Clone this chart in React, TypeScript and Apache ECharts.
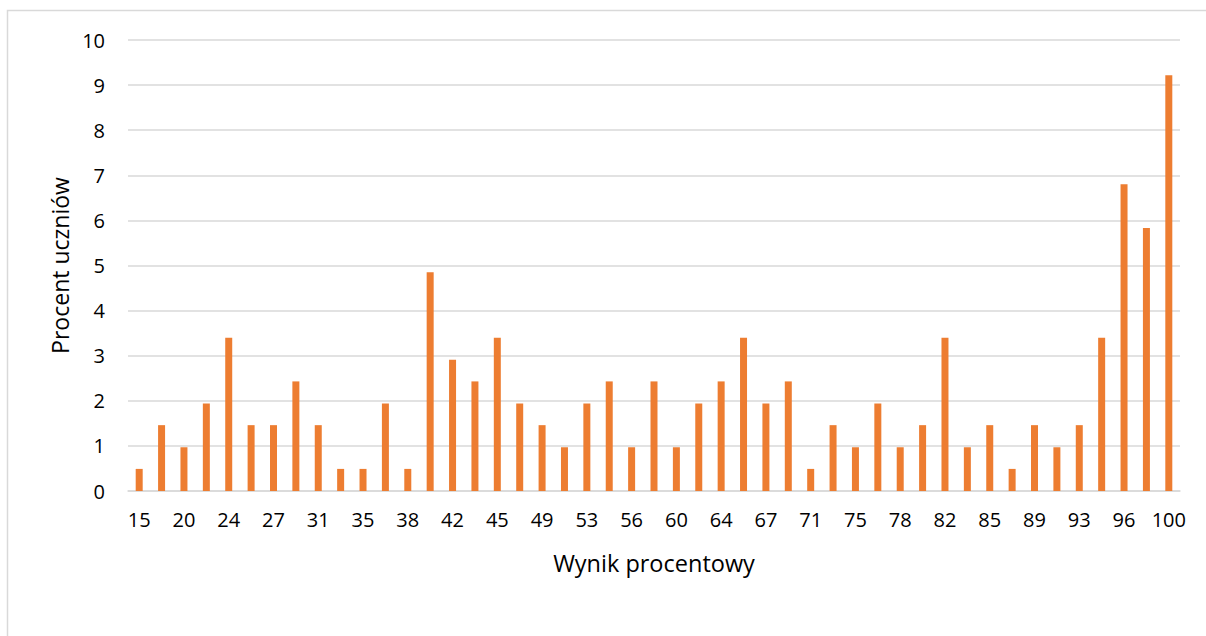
import React, { useEffect, useRef } from "react";
import * as echarts from "echarts";

const categories = [
  "15", "17", "20", "22", "24", "26", "27", "29", "31", "33", "35", "36",
  "38", "40", "42", "44", "45", "47", "49", "51", "53", "55", "56", "58",
  "60", "62", "64", "65", "67", "69", "71", "73", "75", "76", "78", "80",
  "82", "84", "85", "87", "89", "91", "93", "95", "96", "98", "100",
];

const percentOfStudents = [
  0.49, 1.46, 0.97, 1.94, 3.40, 1.46, 1.46, 2.43, 1.46, 0.49, 0.49, 1.94,
  0.49, 4.85, 2.91, 2.43, 3.40, 1.94, 1.46, 0.97, 1.94, 2.43, 0.97, 2.43,
  0.97, 1.94, 2.43, 3.40, 1.94, 2.43, 0.49, 1.46, 0.97, 1.94, 0.97, 1.46,
  3.40, 0.97, 1.46, 0.49, 1.46, 0.97, 1.46, 3.40, 6.80, 5.83, 9.22,
];

const xTitle = "Wynik procentowy";
const yTitle = "Procent uczniów";

export default function App() {
  const ref = useRef<HTMLDivElement>(null);
  useEffect(() => {
    if (!ref.current) return;
    const chart = echarts.init(ref.current, null, { renderer: "svg" });
    const font = "'Open Sans', sans-serif";
    chart.setOption({
      animation: false,
      backgroundColor: "#ffffff",
      graphic: [
        {
          type: "rect",
          shape: { x: 7.5, y: 10.5, width: 1400, height: 800 },
          style: { fill: "none", stroke: "#d9d9d9", lineWidth: 1.5 },
          silent: true,
        },
      ],
      grid: { left: 128, right: 26, top: 40, bottom: 145 },
      xAxis: {
        type: "category",
        data: categories,
        boundaryGap: true,
        name: xTitle,
        nameLocation: "middle",
        nameGap: 60,
        nameTextStyle: { fontFamily: font, fontSize: 23.5, color: "#000" },
        axisLine: { show: true, lineStyle: { color: "#d9d9d9", width: 1.5 } },
        axisTick: { show: false },
        axisLabel: {
          interval: 1,
          margin: 18,
          fontFamily: font,
          fontSize: 20,
          color: "#000",
        },
      },
      yAxis: {
        type: "value",
        min: 0,
        max: 10,
        interval: 1,
        name: yTitle,
        nameLocation: "middle",
        nameGap: 55,
        nameRotate: 90,
        nameTextStyle: { fontFamily: font, fontSize: 23, color: "#000" },
        axisLine: { show: false },
        axisTick: { show: false },
        axisLabel: { margin: 23, fontFamily: font, fontSize: 20, color: "#000" },
        splitLine: { lineStyle: { color: "#d9d9d9", width: 1.5 } },
      },
      series: [
        {
          type: "bar",
          data: percentOfStudents,
          barWidth: 7,
          itemStyle: { color: "#ed7d31" },
        },
      ],
    });
    return () => chart.dispose();
  }, []);
  return (
    <div
      ref={ref}
      style={{ position: "absolute", left: 0, top: 0, width: 1206, height: 636 }}
    />
  );
}
